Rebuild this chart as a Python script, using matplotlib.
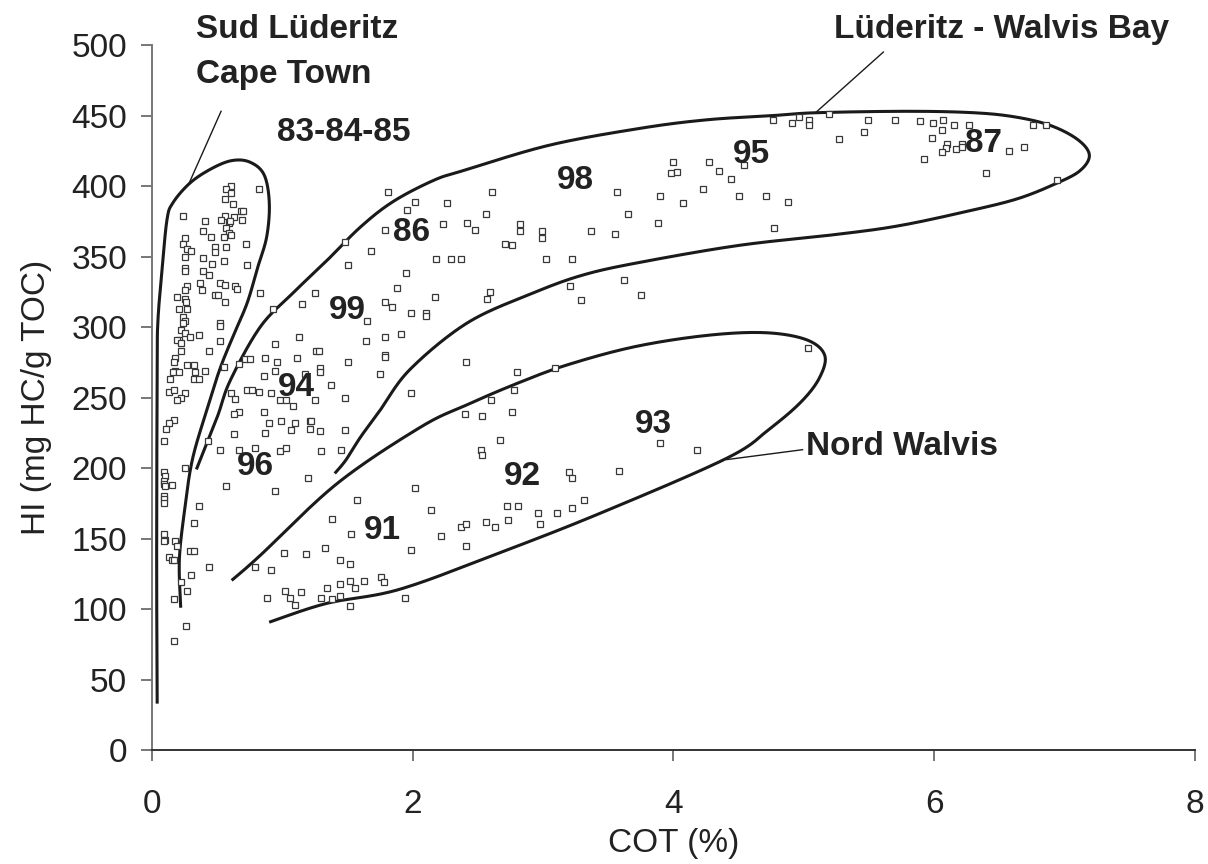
import numpy as np
import matplotlib
matplotlib.use('Agg')
import matplotlib.pyplot as plt

plt.rcParams['font.family'] = ['Liberation Sans', 'DejaVu Sans']

# ---- Samples: COT (%) vs HI (mg HC/g TOC) ----
coastal_cot = [0.61, 0.57, 0.61, 0.82, 0.56, 0.62, 0.68, 0.70, 0.24, 0.56,
               0.53, 0.63, 0.41, 0.59, 0.60, 0.69, 0.57, 0.59, 0.61, 0.39,
               0.45, 0.55, 0.25, 0.24, 0.72, 0.27, 0.30, 0.48, 0.48, 0.57,
               0.25, 0.39, 0.55, 0.46, 0.73, 0.25, 0.25, 0.39, 0.44, 0.37,
               0.52, 0.56, 0.27, 0.64, 0.65, 0.25, 0.38, 0.83, 0.19, 0.25,
               0.26, 0.48, 0.51, 0.56, 0.21, 0.27, 0.93, 0.24, 0.25, 0.24,
               0.52, 0.52, 0.22, 0.25, 0.21, 0.19, 0.22, 0.29, 0.36, 0.52,
               0.94, 0.22, 0.44, 0.18, 0.17, 0.27, 0.32, 0.55, 0.87, 0.71,
               0.75, 0.67, 0.96,
               0.18, 0.16, 0.21, 0.33, 0.41, 0.14, 0.32, 0.36, 0.86, 0.94,
               0.13, 0.17, 0.25, 0.22, 0.19, 0.61, 0.64, 0.73, 0.77, 0.82,
               0.91, 0.67, 0.63, 0.86, 0.90, 0.17, 0.13, 0.11, 0.87, 0.63,
               0.09, 0.43, 0.52, 0.67, 0.79, 0.25, 0.09, 0.10, 0.09, 0.09,
               0.10, 0.15, 0.09, 0.09, 0.09, 0.57, 0.94, 0.36, 0.32, 0.09,
               0.10, 0.09, 0.18, 0.19, 0.29, 0.32, 0.13, 0.15, 0.17, 0.44,
               0.30, 0.22, 0.27, 0.17, 0.79, 0.91, 0.88, 0.26, 0.17]
coastal_hi = [400, 398, 395, 398, 391, 387, 382, 382, 379, 379,
              376, 378, 375, 374, 375, 376, 370, 367, 365, 368,
              364, 364, 363, 359, 359, 355, 354, 357, 353, 357,
              350, 349, 347, 345, 344, 342, 340, 340, 337, 331,
              331, 330, 329, 329, 327, 326, 326, 324, 321, 320,
              318, 323, 323, 318, 313, 313, 313, 307, 304, 303,
              303, 301, 298, 296, 291, 291, 289, 293, 294, 290,
              288, 283, 283, 278, 275, 273, 273, 272, 278, 277,
              277, 274, 275,
              269, 268, 268, 268, 269, 263, 263, 263, 265, 269,
              254, 255, 253, 250, 248, 253, 249, 255, 255, 254,
              253, 240, 238, 240, 232, 234, 232, 228, 225, 224,
              219, 219, 213, 213, 214, 200, 197, 194, 191, 189,
              187, 188, 180, 178, 175, 187, 184, 173, 161, 153,
              149, 148, 148, 145, 141, 141, 137, 135, 135, 130,
              124, 119, 113, 107, 130, 128, 108, 88, 77]

inner_cot = [1.81, 2.02, 1.96, 1.79, 1.48, 1.68, 1.50, 1.95, 1.88, 1.25,
             1.15, 1.79, 1.84, 1.99, 1.65, 1.13, 1.79, 1.91, 1.64, 1.26,
             1.28, 1.79, 1.79, 1.11, 1.50, 1.29, 1.29, 1.17, 1.75, 1.37,
             0.98, 1.03, 1.08, 1.25, 1.48, 1.99, 0.99, 1.10, 1.07, 1.21,
             1.22, 1.21, 1.29, 1.48, 0.98, 1.03, 1.30, 1.45, 1.20, 2.02,
             1.57, 1.38, 1.53, 1.01, 1.18, 1.33, 1.44, 1.52, 1.99, 1.44,
             1.52, 1.56, 1.63, 1.76, 1.78, 1.02, 1.14, 1.06, 1.10, 1.34,
             1.30, 1.38, 1.44, 1.52, 1.94]
inner_hi = [396, 389, 383, 369, 360, 354, 344, 338, 328, 324,
            316, 318, 314, 310, 304, 293, 293, 295, 290, 283,
            283, 280, 279, 278, 275, 271, 268, 267, 267, 259,
            248, 248, 244, 248, 250, 253, 233, 232, 227, 233,
            233, 228, 226, 227, 212, 214, 212, 213, 193, 186,
            177, 164, 153, 140, 139, 143, 135, 132, 142, 118,
            120, 115, 120, 123, 119, 113, 112, 108, 103, 115,
            108, 107, 109, 102, 108]

mid_cot = [2.26, 2.61, 2.56, 2.23, 2.42, 2.48, 2.82, 2.82, 2.99, 2.99,
           2.71, 2.76, 3.37, 3.55, 3.57, 3.65, 2.18, 2.29, 2.37, 3.02,
           3.22, 2.17, 2.59, 2.57, 2.10, 2.10, 3.21, 3.29, 3.62, 3.75,
           2.41, 3.09, 2.80, 2.78, 2.60, 2.40, 2.53, 2.76, 2.67, 2.52,
           2.53, 3.20, 3.22, 3.58, 3.90, 4.18, 2.14, 2.72, 2.81, 2.96,
           3.11, 3.22, 3.31, 2.56, 2.73, 2.98, 2.63, 2.37, 2.41, 2.22,
           2.41, 5.03]
mid_hi = [388, 396, 380, 373, 374, 369, 373, 368, 368, 363,
          359, 358, 368, 366, 396, 380, 348, 348, 348, 348,
          348, 321, 325, 320, 310, 308, 329, 319, 333, 323,
          275, 271, 268, 255, 248, 238, 237, 240, 220, 213,
          209, 197, 193, 198, 218, 213, 170, 173, 173, 168,
          168, 172, 177, 162, 163, 160, 158, 158, 160, 152,
          145, 285]

high_cot = [4.76, 4.91, 4.96, 5.04, 5.04, 5.19, 5.49, 5.70, 5.89, 5.27,
            5.46, 4.00, 4.27, 3.98, 4.03, 4.35, 4.44, 4.54, 4.23, 3.90,
            4.07, 4.50, 4.71, 4.88, 3.88, 4.77, 5.99, 6.07, 6.06, 6.15,
            6.27, 5.98, 6.10, 6.09, 6.06, 6.17, 6.21, 6.21, 5.92, 6.57,
            6.69, 6.40, 6.76, 6.86, 6.94]
high_hi = [447, 445, 449, 447, 443, 451, 447, 447, 446, 433,
           438, 417, 417, 409, 410, 411, 405, 415, 398, 393,
           388, 393, 393, 389, 374, 370, 445, 447, 440, 443,
           443, 434, 430, 427, 424, 426, 430, 428, 419, 425,
           428, 409, 443, 443, 404]

# ---- Hand-drawn zone outlines (COT, HI) ----
cape_outline = [(0.22, 102), (0.21, 135), (0.25, 170), (0.31, 206), (0.42, 241),
                (0.52, 270), (0.62, 293), (0.73, 317), (0.81, 342), (0.88, 364),
                (0.90, 388), (0.86, 408), (0.75, 417), (0.61, 418), (0.45, 412),
                (0.29, 402), (0.16, 388), (0.115, 376), (0.077, 340), (0.046, 305),
                (0.04, 270), (0.036, 135), (0.04, 34)]
luderitz_outline = [(0.345, 200), (0.50, 236), (0.60, 262), (0.83, 300), (1.08, 324),
                    (1.34, 347), (1.60, 371), (1.85, 389), (2.16, 404), (2.39, 411),
                    (3.05, 429), (3.75, 441), (4.26, 447), (4.77, 450), (5.10, 452),
                    (5.80, 453), (6.30, 452), (6.62, 449), (6.89, 443), (7.10, 433),
                    (7.19, 422), (7.12, 411), (6.94, 402), (6.64, 391), (6.25, 382),
                    (5.74, 372), (5.28, 366), (4.51, 358), (3.75, 346), (3.31, 337),
                    (2.92, 324), (2.42, 303), (1.98, 270), (1.75, 241), (1.60, 222),
                    (1.49, 206), (1.41, 197)]
walvis_outline = [(0.62, 121), (0.83, 138), (1.42, 189), (2.06, 229), (2.42, 245),
                  (2.80, 260), (3.18, 273), (3.70, 286), (4.25, 294), (4.70, 296),
                  (5.02, 291), (5.16, 280), (5.12, 264), (4.98, 247), (4.74, 228),
                  (4.41, 207), (3.44, 168), (2.67, 140), (1.90, 114), (1.34, 104),
                  (0.91, 91)]

cape_leader = [(0.53, 453), (0.28, 401)]
luderitz_leader = [(5.61, 495), (5.09, 452)]
walvis_leader = [(4.99, 213), (4.41, 206)]

# cruise labels and their positions
cruise_labels = ['83-84-85', '98', '95', '87', '86', '99', '94', '96', '91', '92', '93']
cruise_cot = [1.47, 3.25, 4.60, 6.38, 1.99, 1.50, 1.11, 0.79, 1.77, 2.84, 3.85]
cruise_hi = [438, 404, 422, 430, 367, 312, 257, 201, 156, 194, 231]


def smooth(pts, n=24):
    # Catmull-Rom spline through the outline points
    p = np.asarray(pts, dtype=float)
    p = np.vstack([p[0], p, p[-1]])
    t = np.linspace(0, 1, n, endpoint=False)[:, None]
    out = []
    for i in range(1, len(p) - 2):
        p0, p1, p2, p3 = p[i - 1], p[i], p[i + 1], p[i + 2]
        seg = 0.5 * (2 * p1 + (-p0 + p2) * t
                     + (2 * p0 - 5 * p1 + 4 * p2 - p3) * t ** 2
                     + (-p0 + 3 * p1 - 3 * p2 + p3) * t ** 3)
        out.append(seg)
    out.append(p[-2][None])
    return np.vstack(out)


fig = plt.figure(figsize=(12.08, 8.64), dpi=100)
ax = fig.add_axes([0.1258, 0.1319, 0.8634, 0.816])

for c, h in [(coastal_cot, coastal_hi), (inner_cot, inner_hi),
             (mid_cot, mid_hi), (high_cot, high_hi)]:
    ax.plot(c, h, 's', ms=4.0, mfc='white', mec='#383838', mew=0.9,
            ls='none', zorder=3)

for outline in [cape_outline, luderitz_outline, walvis_outline]:
    xy = smooth(outline)
    ax.plot(xy[:, 0], xy[:, 1], color='#1a1a1a', lw=2.2, zorder=2)

for leader in [cape_leader, luderitz_leader, walvis_leader]:
    lx, ly = zip(*leader)
    ax.plot(lx, ly, color='#1a1a1a', lw=1.0, clip_on=False, zorder=2)

for lab, x, y in zip(cruise_labels, cruise_cot, cruise_hi):
    ax.text(x, y, lab, fontsize=24, fontweight='bold', color='#222222',
            ha='center', va='center', zorder=4)

ax.text(0.34, 511, 'Sud Lüderitz', fontsize=24, fontweight='bold',
        color='#222222', ha='left', va='center')
ax.text(0.34, 479, 'Cape Town', fontsize=24, fontweight='bold',
        color='#222222', ha='left', va='center')
ax.text(6.52, 511, 'Lüderitz - Walvis Bay', fontsize=24, fontweight='bold',
        color='#222222', ha='center', va='center')
ax.text(5.02, 215, 'Nord Walvis', fontsize=24, fontweight='bold',
        color='#222222', ha='left', va='center')

ax.set_xlim(0, 8)
ax.set_ylim(0, 500)
ax.set_xticks([0, 2, 4, 6, 8])
ax.set_yticks(np.arange(0, 501, 50))
ax.set_xlabel('COT (%)', fontsize=24, labelpad=6, color='#222222')
ax.set_ylabel('HI (mg HC/g TOC)', fontsize=24, labelpad=14, color='#222222')

for side in ['top', 'right']:
    ax.spines[side].set_visible(False)
ax.spines['left'].set_color('#777777')
ax.spines['left'].set_linewidth(1.4)
ax.spines['bottom'].set_color('#333333')
ax.spines['bottom'].set_linewidth(1.4)
ax.tick_params(direction='out', length=8, width=1.4, color='#777777',
               labelsize=24, labelcolor='#222222')
ax.tick_params(axis='x', pad=20)
ax.tick_params(axis='y', pad=10)

fig.savefig('out.png', dpi=100)
